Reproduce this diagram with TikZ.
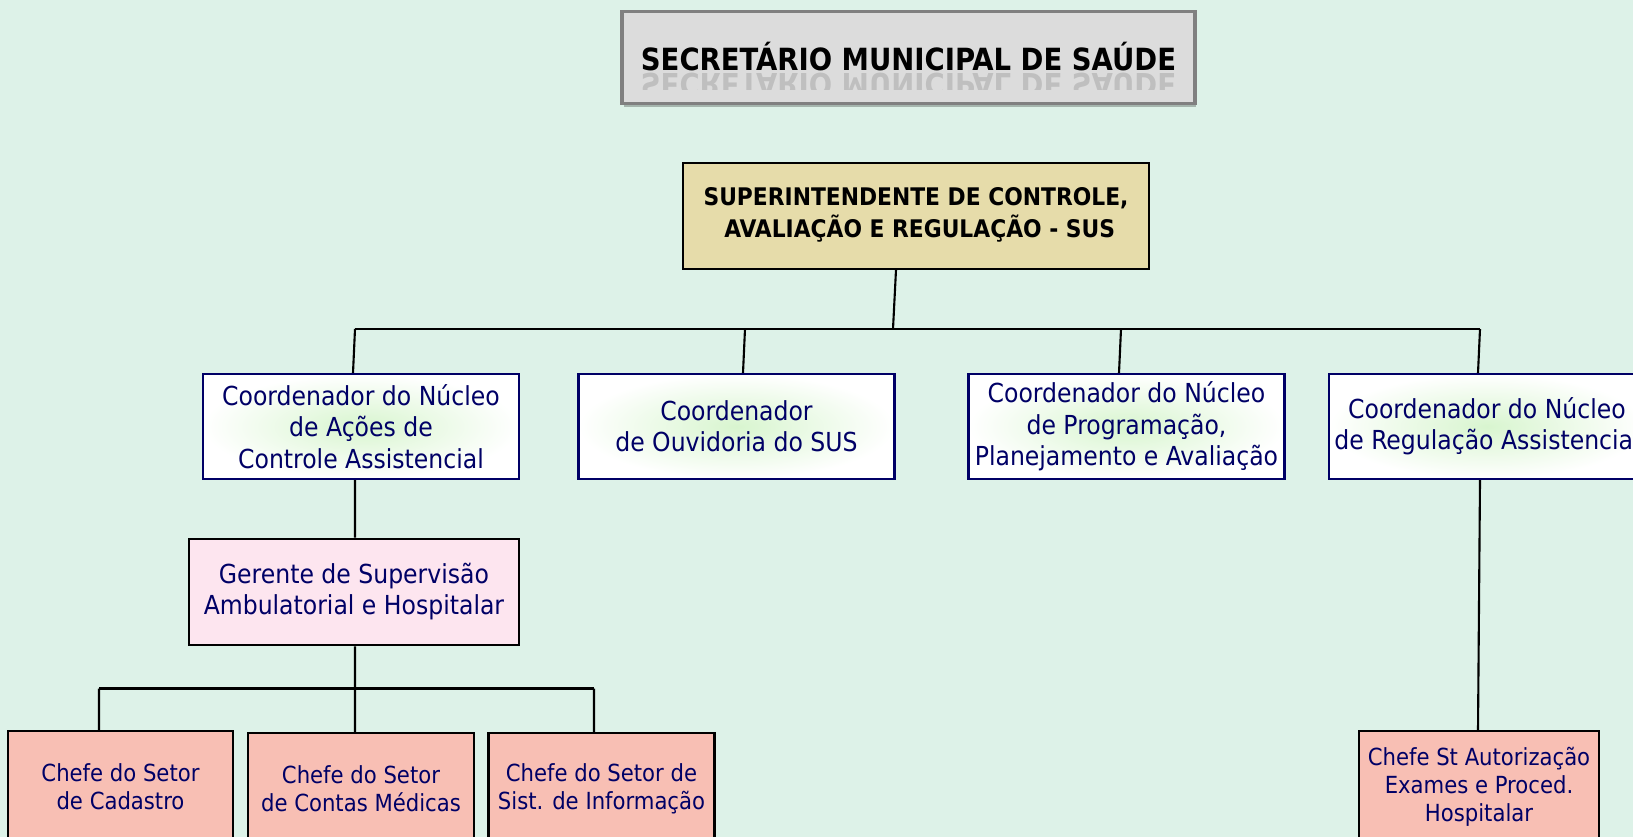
\documentclass[tikz,border=0pt]{standalone}
\usepackage{fontspec}
\setmainfont{DejaVu Sans Condensed}
\usetikzlibrary{shadows}
\definecolor{fundo}{HTML}{DDF2E8}
\definecolor{azul}{HTML}{000066}
\definecolor{cinza}{HTML}{DCDCDC}
\definecolor{borda}{HTML}{808080}
\definecolor{areia}{HTML}{E6DCAA}
\definecolor{rosa}{HTML}{FDE5EF}
\definecolor{salmao}{HTML}{F8BFB4}
\definecolor{verde}{HTML}{D8F5CF}
\tikzset{
  cargo/.style={draw, line width=1.2pt, align=center, inner sep=0pt, text=azul,
    font=\fontsize{14.9}{17.8}\selectfont},
  coord/.style={cargo, draw=azul, minimum width=6.32cm, minimum height=2.1cm,
    inner color=verde, outer color=white},
  chefe/.style={cargo, fill=salmao, minimum height=2.24cm,
    font=\fontsize{13.4}{16}\selectfont},
  linha/.style={line width=1.2pt},
}
\begin{document}
\begin{tikzpicture}[x=0.02cm, y=-0.02cm]
\useasboundingbox (0,0) rectangle (1633,837);
\clip (0,0) rectangle (1633,837);
\fill[fundo] (0,0) rectangle (1633,837);
% topo
\node[draw=borda, line width=2pt, fill=cinza, minimum width=11.46cm, minimum height=1.84cm,
  drop shadow={shadow xshift=0.03cm, shadow yshift=-0.08cm, fill=black, opacity=0.25}]
  (sec) at (908.5,57.5) {};
\node[anchor=base, font=\bfseries\fontsize{17.4}{20}\selectfont] (sectxt) at (908.5,71) {SECRETÁRIO MUNICIPAL DE SAÚDE};
\begin{scope}
\clip (622,72) rectangle (1195,90);
\node[anchor=base, yscale=-1, transform shape, opacity=0.13, font=\bfseries\fontsize{17.4}{20}\selectfont] (secref) at (908.5,74) {SECRETÁRIO MUNICIPAL DE SAÚDE};
\end{scope}
\node[cargo, fill=areia, text=black, minimum width=9.32cm, minimum height=2.11cm,
  font=\bfseries\fontsize{13.8}{18.2}\selectfont, text depth=0.15cm] (sup) at (916,216)
  {SUPERINTENDENTE DE CONTROLE,\\ \ AVALIAÇÃO E REGULAÇÃO - SUS};
% coordenadores
\node[coord] (coA) at (361,426.5) {Coordenador do Núcleo\\de Ações de\\Controle Assistencial};
\node[coord] (coB) at (736.5,426.5) {Coordenador\\de Ouvidoria do SUS};
\node[coord] (coC) at (1126.5,426.5) {Coordenador do Núcleo\\de Programação,\\Planejamento e Avaliação};
\node[coord] (coD) at (1487,426.5) {Coordenador do Núcleo\\de Regulação Assistencial};
\node[cargo, fill=rosa, minimum width=6.61cm, minimum height=2.13cm, text depth=0.12cm] (ger) at (354,592)
  {Gerente de Supervisão\\Ambulatorial e Hospitalar};
% chefes
\node[chefe, minimum width=4.5cm] (chE) at (120.5,787) {Chefe do Setor\\de Cadastro};
\node[chefe, minimum width=4.52cm] (chF) at (361,789) {Chefe do Setor\\de Contas Médicas};
\node[chefe, minimum width=4.52cm] (chG) at (601.5,789) {Chefe do Setor de\\Sist. de Informação};
\node[chefe, minimum width=4.8cm] (chH) at (1479,787) {Chefe St Autorização\\Exames e Proced.\\Hospitalar};
% ligacoes
\coordinate (bsup) at (893,329);
\coordinate (bA) at (355,329);
\coordinate (bB) at (745,329);
\coordinate (bC) at (1121,329);
\coordinate (bD) at (1480,329);
\coordinate (gE) at (99,688.5);
\coordinate (gF) at (355,688.5);
\coordinate (gG) at (594,688.5);
\draw[linha] (bA) -- (bD);
\draw[linha] ([xshift=-0.4cm]sup.south) -- (bsup);
\draw[linha] (bA) -- ([xshift=-0.16cm]coA.north);
\draw[linha] (bB) -- ([xshift=0.13cm]coB.north);
\draw[linha] (bC) -- ([xshift=-0.15cm]coC.north);
\draw[linha] (bD) -- ([xshift=-0.18cm]coD.north);
\draw[linha] ([xshift=-0.12cm]coA.south) -- ([xshift=0.02cm]ger.north);
\draw[linha] ([xshift=0.02cm]ger.south) -- ([xshift=-0.12cm]chF.north);
\draw[linha] (gE) -- (gG);
\draw[linha] (gE) -- ([xshift=-0.43cm]chE.north);
\draw[linha] (gG) -- ([xshift=-0.15cm]chG.north);
\draw[linha] ([xshift=-0.14cm]coD.south) -- ([xshift=-0.02cm]chH.north);
\end{tikzpicture}
\end{document}
